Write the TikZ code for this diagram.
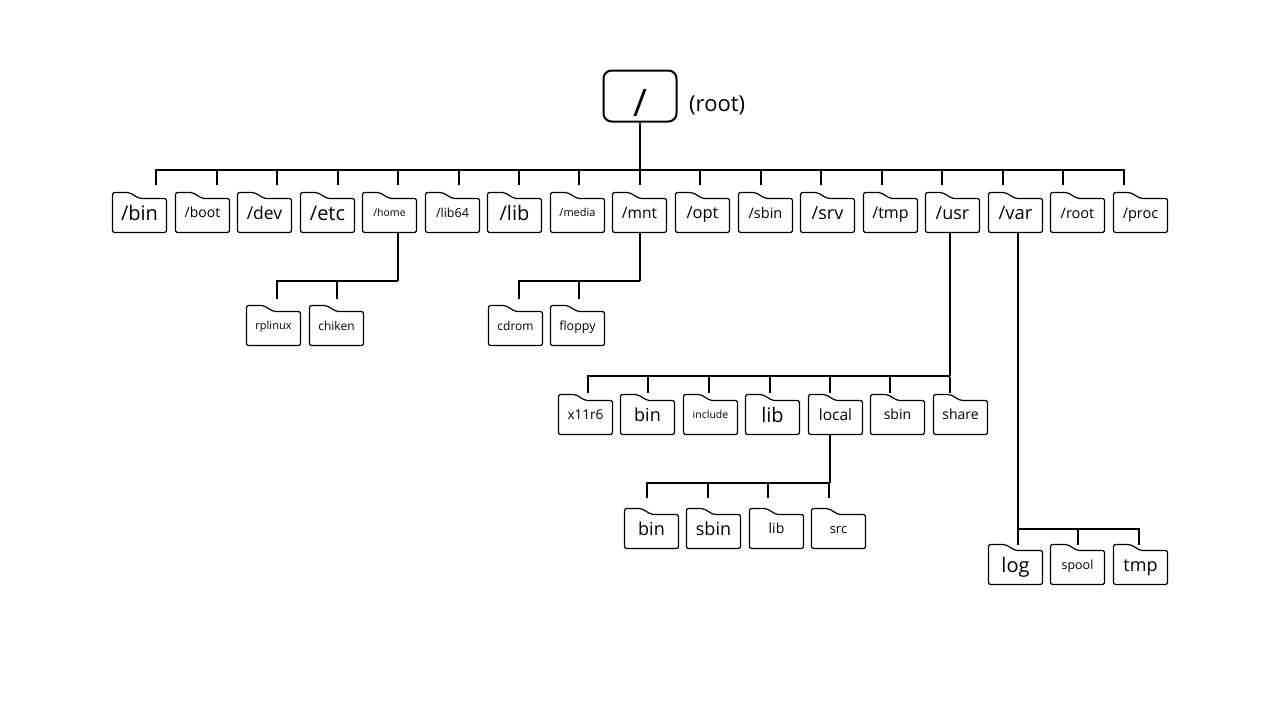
\documentclass[tikz,border=0pt]{standalone}
\usepackage{fontspec}
\setmainfont{Open Sans}
\usepackage{xcolor}
\usetikzlibrary{calc}

\begin{document}
\begin{tikzpicture}[
    x=1pt, y=-1pt,
    link/.style={line width=2pt, black},
    rootbox/.style={draw, line width=2pt, rounded corners=8pt, minimum width=73pt, minimum height=51pt, inner sep=0pt, text height=40pt, text depth=0pt, font=\fontsize{38}{38}\selectfont},
    folder/.style={minimum width=53.5pt, minimum height=39.5pt, inner sep=0pt, text height=0.96*#1pt, text depth=0.2*#1pt, font=\fontsize{#1}{#1}\selectfont,
      append after command={\pgfextra{
        \draw[line width=1.2pt, rounded corners=2pt]
          (\tikzlastnode.north west) -- (\tikzlastnode.south west) -- (\tikzlastnode.south east)
          -- ([yshift=-6pt]\tikzlastnode.north east) -- ([shift={(27pt,-6pt)}]\tikzlastnode.north west)
          -- ([xshift=17pt]\tikzlastnode.north west) -- cycle;
      }}},
  ]
  \useasboundingbox (0,0) rectangle (1280,720);

  % Root
  \node[rootbox] (rootdir) at (640,96) {/};
  \node[anchor=west, inner sep=0pt, font=\fontsize{22}{22}\selectfont] (rootlabel) at (689,105) {(root)};

  % Top level
  \node[folder=20] (bin) at (139.5,212.5) {/bin};
  \node[folder=14] (boot) at (202.5,212.5) {/boot};
  \node[folder=17.5] (dev) at (264.5,212.5) {/dev};
  \node[folder=20] (etc) at (327.5,212.5) {/etc};
  \node[folder=10.5] (home) at (389.5,212.5) {/home};
  \node[folder=12.5] (lib64) at (452.5,212.5) {/lib64};
  \node[folder=20] (lib) at (514.5,212.5) {/lib};
  \node[folder=11] (media) at (577.5,212.5) {/media};
  \node[folder=15.5] (mnt) at (639.5,212.5) {/mnt};
  \node[folder=16.5] (opt) at (702.5,212.5) {/opt};
  \node[folder=14.5] (sbin) at (765.5,212.5) {/sbin};
  \node[folder=18] (srv) at (827.5,212.5) {/srv};
  \node[folder=16] (tmp) at (890.5,212.5) {/tmp};
  \node[folder=18] (usr) at (952.5,212.5) {/usr};
  \node[folder=18.5] (var) at (1015.5,212.5) {/var};
  \node[folder=14.5] (rootdirs) at (1077.5,212.5) {/root};
  \node[folder=14.5] (proc) at (1140.5,212.5) {/proc};

  % Under /home and /mnt
  \node[folder=11] (rplinux) at (273.5,325.5) {rplinux};
  \node[folder=12] (chiken) at (336.5,325.5) {chiken};
  \node[folder=12] (cdrom) at (515.5,325.5) {cdrom};
  \node[folder=12.5] (floppy) at (577.5,325.5) {floppy};

  % Under /usr
  \node[folder=13.5] (x11r6) at (585.5,414.5) {x11r6};
  \node[folder=18] (usrbin) at (647.5,414.5) {bin};
  \node[folder=10.5] (include) at (710.5,414.5) {include};
  \node[folder=20] (usrlib) at (772.5,414.5) {lib};
  \node[folder=15.5] (local) at (835.5,414.5) {local};
  \node[folder=14] (usrsbin) at (897.5,414.5) {sbin};
  \node[folder=14] (share) at (960.5,414.5) {share};

  % Under local
  \node[folder=18] (localbin) at (651.5,528.5) {bin};
  \node[folder=18] (localsbin) at (713.5,528.5) {sbin};
  \node[folder=14] (locallib) at (776.5,528.5) {lib};
  \node[folder=13] (src) at (838.5,528.5) {src};

  % Under /var
  \node[folder=20] (log) at (1015.5,564.5) {log};
  \node[folder=12.5] (spool) at (1077.5,564.5) {spool};
  \node[folder=18] (vartmp) at (1140.5,564.5) {tmp};

  % Bus lines
  \coordinate (topbus) at (640,170);
  \coordinate (homebus) at (398,281);
  \coordinate (mntbus) at (640,281);
  \coordinate (usrbus) at (950,376);
  \coordinate (localbus) at (830,483);
  \coordinate (varbus) at (1018,529);

  % Root connectors
  \draw[link] (rootdir) -- (topbus);
  \draw[link] ([shift={(16.5,-8)}]bin.north) |- (topbus);
  \draw[link] ([shift={(-16.5,-8)}]proc.north) |- (topbus);
  \draw[link] ([shift={(14.5,-8)}]boot.north) -- ++(0,-15);
  \draw[link] ([shift={(12.5,-8)}]dev.north) -- ++(0,-15);
  \draw[link] ([shift={(10.5,-8)}]etc.north) -- ++(0,-15);
  \draw[link] ([shift={(8.5,-8)}]home.north) -- ++(0,-15);
  \draw[link] ([shift={(6.5,-8)}]lib64.north) -- ++(0,-15);
  \draw[link] ([shift={(4.5,-8)}]lib.north) -- ++(0,-15);
  \draw[link] ([shift={(1.5,-8)}]media.north) -- ++(0,-15);
  \draw[link] ([shift={(0.5,-8)}]mnt.north) -- ++(0,-15);
  \draw[link] ([shift={(-2.5,-8)}]opt.north) -- ++(0,-15);
  \draw[link] ([shift={(-4.5,-8)}]sbin.north) -- ++(0,-15);
  \draw[link] ([shift={(-6.5,-8)}]srv.north) -- ++(0,-15);
  \draw[link] ([shift={(-8.5,-8)}]tmp.north) -- ++(0,-15);
  \draw[link] ([shift={(-10.5,-8)}]usr.north) -- ++(0,-15);
  \draw[link] ([shift={(-12.5,-8)}]var.north) -- ++(0,-15);
  \draw[link] ([shift={(-14.5,-8)}]rootdirs.north) -- ++(0,-15);

  % /home connectors
  \draw[link] ([xshift=8.5pt]home.south) -- (homebus);
  \draw[link] ([shift={(3.5,-7)}]rplinux.north) |- (homebus);
  \draw[link] ([shift={(0.5,-7)}]chiken.north) -- ++(0,-17);

  % /mnt connectors
  \draw[link] ([xshift=0.5pt]mnt.south) -- (mntbus);
  \draw[link] ([shift={(3.5,-7)}]cdrom.north) |- (mntbus);
  \draw[link] ([shift={(1.5,-7)}]floppy.north) -- ++(0,-17);

  % /usr connectors
  \draw[link] ([xshift=-2.5pt]usr.south) -- (usrbus);
  \draw[link] ([shift={(2.5,-2)}]x11r6.north) |- (usrbus);
  \draw[link] ([shift={(0.5,-2)}]usrbin.north) -- ++(0,-16);
  \draw[link] ([shift={(-1.5,-2)}]include.north) -- ++(0,-16);
  \draw[link] ([shift={(-2.5,-2)}]usrlib.north) -- ++(0,-16);
  \draw[link] ([shift={(-5.5,-2)}]local.north) -- ++(0,-16);
  \draw[link] ([shift={(-7.5,-2)}]usrsbin.north) -- ++(0,-16);
  \draw[link] ([shift={(-10.5,-2)}]share.north) -- ++(0,-16);

  % local connectors
  \draw[link] ([xshift=-5.5pt]local.south) -- (localbus);
  \draw[link] ([shift={(-4.5,-11)}]localbin.north) |- (localbus);
  \draw[link] ([shift={(-5.5,-11)}]localsbin.north) -- ++(0,-14);
  \draw[link] ([shift={(-8.5,-11)}]locallib.north) -- ++(0,-14);
  \draw[link] ([shift={(-9.5,-11)}]src.north) -- ++(0,-14);

  % /var connectors
  \draw[link] ([xshift=2.5pt]var.south) -- ([shift={(2.5,0)}]log.north);
  \draw[link] ([shift={(0.5,0)}]spool.north) -- ++(0,-15);
  \draw[link] ([shift={(-1.5,0)}]vartmp.north) |- (varbus);
\end{tikzpicture}
\end{document}
